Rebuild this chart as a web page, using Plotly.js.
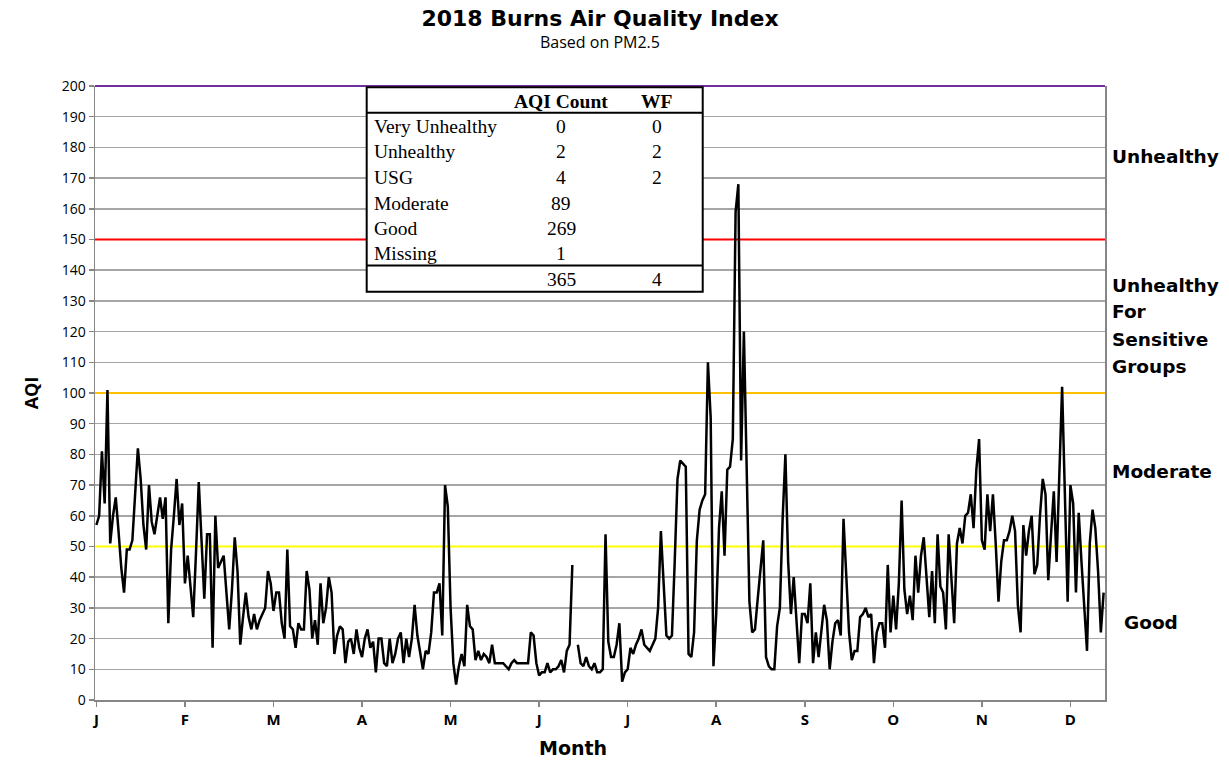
<!DOCTYPE html>
<html>
<head>
<meta charset="utf-8">
<script src="https://cdn.plot.ly/plotly-3.0.1.min.js"></script>
<style>html,body{margin:0;padding:0;background:#fff;}#chart{width:1229px;height:763px;}</style>
</head>
<body>
<div id="chart"></div>
<script>
// Daily AQI values for 2018, one array per calendar month
const jan = [57,60,81,64,101,51,60,66,55,43,35,49,49,52,67,82,72,57,49,70,58,54,60,66,59,66,25,49,60,72,57];
const feb = [64,38,47,37,27,48,71,52,33,54,54,17,60,43,45,47,35,23,36,53,42,18,27,35,27,23,28,23];
const mar = [26,28,30,42,38,29,35,35,25,20,49,24,23,17,25,23,23,42,36,20,26,18,38,25,30,40,35,15,21,24,23];
const apr = [12,19,20,15,23,17,14,20,23,17,19,9,20,20,12,11,20,12,15,20,22,12,20,14,20,31,21,15,10,16];
const may = [15,22,35,35,38,21,70,63,30,12,5,11,15,11,31,24,23,13,16,13,15,14,12,18,12,12,12,12,11,10,12];
const jun = [13,12,12,12,12,12,22,21,12,8,9,9,12,9,10,10,11,13,9,16,18,44,null,18,12,11,14,11,10,12];
const jul = [9,9,10,54,19,14,14,18,25,6,9,10,17,15,18,20,23,18,17,16,18,20,30,55,38,21,20,21,45,72,78];
const aug = [77,76,15,14,22,52,62,65,67,110,92,11,28,56,68,47,75,76,85,159,168,78,120,75,32,22,23,33,43,52,14];
const sep = [11,10,10,24,30,59,80,45,28,40,24,12,28,28,25,38,12,22,14,23,31,26,10,19,25,26,21,59,40,22];
const oct = [13,16,16,27,28,30,27,28,12,22,25,25,17,44,22,34,23,38,65,36,28,34,26,47,35,47,53,38,27,42,25];
const nov = [54,37,35,23,54,40,25,51,56,51,60,61,67,56,75,85,52,49,67,55,67,51,32,45,52,52,55,60,55,31];
const dec = [22,57,47,55,60,41,44,60,72,67,39,54,68,45,74,102,67,32,70,64,35,61,45,30,16,51,62,56,42,22,35];

// Month tick labels (placed every 32 days, as on the original category axis)
const monthLabels = ['J','F','M','A','M','J','J','A','S','O','N','D'];
const monthTickDays = [0,32,64,96,128,160,192,224,256,288,320,352];

// AQI category thresholds and colours
const levelValues = [50, 100, 150];
const levelColors = ['#FFFF00', '#FFC000', '#FF0000'];
const topLevelValue = 200;
const topLevelColor = '#7030A0';

// Category labels on the right
const sideLabels = ['Unhealthy', 'Unhealthy', 'For', 'Sensitive', 'Groups', 'Moderate', 'Good'];

// Summary table
const tableRows = ['Very Unhealthy', 'Unhealthy', 'USG', 'Moderate', 'Good', 'Missing'];
const aqiCounts = ['0', '2', '4', '89', '269', '1'];
const wfCounts = ['0', '2', '2', '', '', ''];
const aqiTotal = '365';
const wfTotal = '4';

const aqi = [].concat(jan, feb, mar, apr, may, jun, jul, aug, sep, oct, nov, dec);
const days = aqi.map((_, i) => i);
const X_RANGE = [-0.5, 364.5];

const FONT = 'Open Sans, sans-serif';
const BOLDFONT = 'DejaVu Sans, sans-serif';
const SERIF = 'Liberation Serif, Times New Roman, serif';

const traces = [];
levelValues.forEach((v, i) => {
  traces.push({x: X_RANGE, y: [v, v], type: 'scatter', mode: 'lines',
    line: {color: levelColors[i], width: 2}, hoverinfo: 'skip'});
});
traces.push({
  x: days, y: aqi, type: 'scatter', mode: 'lines',
  line: {color: '#000000', width: 2.5}, connectgaps: false, hoverinfo: 'y'
});

const shapes = [];
shapes.push({type: 'line', xref: 'paper', yref: 'paper', x0: 0, x1: 1, y0: 1, y1: 1,
  line: {color: topLevelColor, width: 2}, layer: 'above'});
// table box and its inner rules
const tL = 0.2690, tR = 0.6017;
shapes.push({type: 'rect', xref: 'paper', yref: 'y', x0: tL, x1: tR, y0: 133.0, y1: 199.6,
  fillcolor: '#ffffff', line: {color: '#000000', width: 2}, layer: 'above'});
shapes.push({type: 'line', xref: 'paper', yref: 'y', x0: tL, x1: tR, y0: 191.3, y1: 191.3,
  line: {color: '#000000', width: 2}, layer: 'above'});
shapes.push({type: 'line', xref: 'paper', yref: 'y', x0: tL, x1: tR, y0: 141.5, y1: 141.5,
  line: {color: '#000000', width: 2}, layer: 'above'});

const annotations = [];
const rowY = [186.7, 178.6, 170.1, 161.8, 153.6, 145.3];
const colLabel = 0.2740, colAqi = 0.4614, colWf = 0.5564;
const tf = {family: SERIF, size: 19.5, color: '#000'};
annotations.push({xref: 'paper', yref: 'y', x: colAqi, y: 194.9, text: '<b>AQI Count</b>', showarrow: false, font: tf, xanchor: 'center', yanchor: 'middle'});
annotations.push({xref: 'paper', yref: 'y', x: colWf, y: 194.9, text: '<b>WF</b>', showarrow: false, font: tf, xanchor: 'center', yanchor: 'middle'});
tableRows.forEach((r, i) => {
  annotations.push({xref: 'paper', yref: 'y', x: colLabel, y: rowY[i], text: r, showarrow: false, font: tf, xanchor: 'left', yanchor: 'middle'});
  annotations.push({xref: 'paper', yref: 'y', x: colAqi, y: rowY[i], text: aqiCounts[i], showarrow: false, font: tf, xanchor: 'center', yanchor: 'middle'});
  if (wfCounts[i] !== '') annotations.push({xref: 'paper', yref: 'y', x: colWf, y: rowY[i], text: wfCounts[i], showarrow: false, font: tf, xanchor: 'center', yanchor: 'middle'});
});
annotations.push({xref: 'paper', yref: 'y', x: colAqi, y: 137.0, text: aqiTotal, showarrow: false, font: tf, xanchor: 'center', yanchor: 'middle'});
annotations.push({xref: 'paper', yref: 'y', x: colWf, y: 137.0, text: wfTotal, showarrow: false, font: tf, xanchor: 'center', yanchor: 'middle'});

// right-hand category labels
const sideX = [1.005, 1.005, 1.005, 1.005, 1.005, 1.005, 1.0168];
const sideY = [176.9, 135.0, 126.5, 117.4, 108.6, 74.3, 25.4];
const sf = {family: BOLDFONT, size: 18.5, color: '#000'};
sideLabels.forEach((t, i) => {
  annotations.push({xref: 'paper', yref: 'y', x: sideX[i], y: sideY[i], text: '<b>' + t + '</b>', showarrow: false, font: sf, xanchor: 'left', yanchor: 'middle'});
});

// subtitle and x axis title
annotations.push({xref: 'paper', yref: 'paper', x: 0.5, y: (763 - 42 - 63) / 614, text: 'Based on PM2.5', showarrow: false,
  font: {family: FONT, size: 16, color: '#000'}, xanchor: 'center', yanchor: 'middle'});
annotations.push({xref: 'paper', yref: 'paper', x: (573 - 95) / 1010, y: -(748 - 700) / 614, text: '<b>Month</b>', showarrow: false,
  font: {family: BOLDFONT, size: 19, color: '#000'}, xanchor: 'center', yanchor: 'middle'});

const layout = {
  width: 1229, height: 763,
  margin: {l: 95, r: 124, t: 86, b: 63},
  paper_bgcolor: '#ffffff', plot_bgcolor: '#ffffff',
  showlegend: false,
  font: {family: FONT, color: '#000'},
  title: {text: '<b>2018 Burns Air Quality Index</b>', x: 0.5, xref: 'paper', y: 1 - 18 / 763, yref: 'container',
    yanchor: 'middle', font: {family: BOLDFONT, size: 22, color: '#000'}},
  xaxis: {
    range: X_RANGE, tickmode: 'array', tickvals: monthTickDays, ticktext: monthLabels,
    showgrid: false, zeroline: false, showline: true, linecolor: '#868686', linewidth: 1.5,
    ticks: 'outside', ticklen: 5, tickcolor: '#868686', tickwidth: 1.5,
    tickfont: {family: FONT, size: 15, color: '#000', weight: 'bold'}
  },
  yaxis: {
    range: [0, 200], dtick: 10, tick0: 0,
    showgrid: true, gridcolor: '#a6a6a6', gridwidth: 1.5, zeroline: false,
    showline: true, linecolor: '#868686', linewidth: 1.5, mirror: true,
    ticks: 'outside', ticklen: 5, tickcolor: '#868686', tickwidth: 1.5,
    tickfont: {family: FONT, size: 14, color: '#000'},
    title: {text: '<b>AQI</b>', font: {family: FONT, size: 18, color: '#000'}, standoff: 18}
  },
  shapes: shapes,
  annotations: annotations
};

Plotly.newPlot('chart', traces, layout, {displayModeBar: false, staticPlot: true});
</script>
</body>
</html>
